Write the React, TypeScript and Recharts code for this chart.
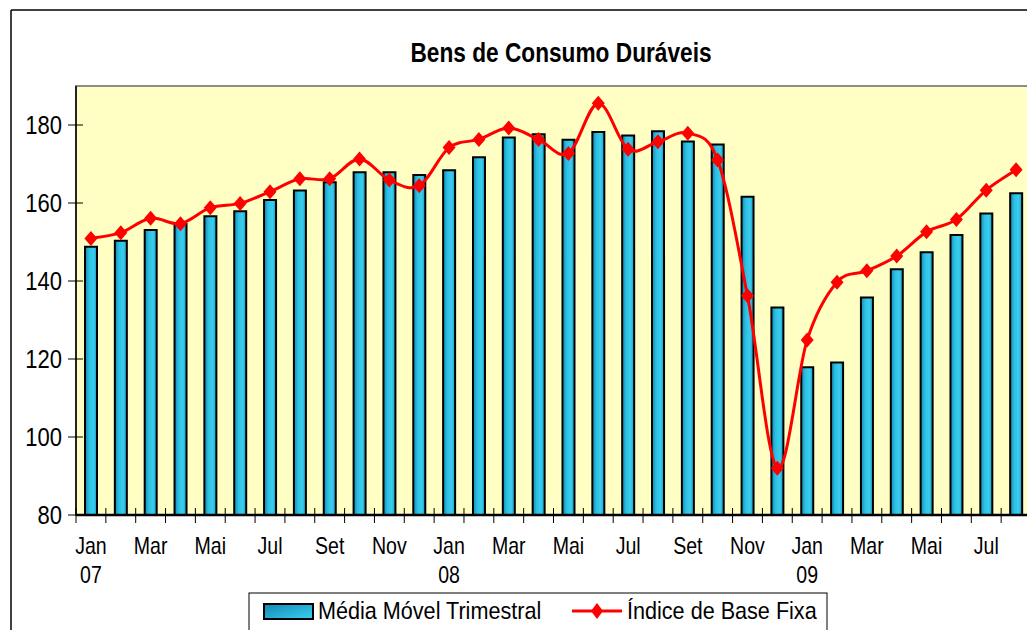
import { Bar, ComposedChart, CartesianGrid, Line, ReferenceArea, XAxis, YAxis } from 'recharts'

const months = [
  'Jan 07', 'Fev 07', 'Mar 07', 'Abr 07', 'Mai 07', 'Jun 07', 'Jul 07', 'Ago 07', 'Set 07', 'Out 07', 'Nov 07', 'Dez 07',
  'Jan 08', 'Fev 08', 'Mar 08', 'Abr 08', 'Mai 08', 'Jun 08', 'Jul 08', 'Ago 08', 'Set 08', 'Out 08', 'Nov 08', 'Dez 08',
  'Jan 09', 'Fev 09', 'Mar 09', 'Abr 09', 'Mai 09', 'Jun 09', 'Jul 09', 'Ago 09',
]

const mediaMovel = [
  148.8, 150.3, 153.1, 154.6, 156.6, 157.9, 160.8, 163.2, 165.3, 167.9, 167.9, 167.2,
  168.4, 171.7, 176.8, 177.6, 176.2, 178.2, 177.3, 178.4, 175.8, 175.0, 161.6, 133.2,
  117.9, 119.1, 135.8, 143.0, 147.4, 151.8, 157.3, 162.5,
]

const indiceBaseFixa = [
  150.9, 152.4, 156.1, 154.7, 158.8, 159.9, 162.9, 166.2, 166.2, 171.3, 165.9, 164.4,
  174.2, 176.3, 179.2, 176.3, 172.7, 185.6, 173.8, 175.7, 177.9, 171.0, 136.2, 92.0,
  124.9, 139.7, 142.6, 146.4, 152.6, 155.8, 163.3, 168.5,
]

const yTicks = [80, 100, 120, 140, 160, 180]
const yearLabels: Record<number, string> = { 0: '07', 12: '08', 24: '09' }

const data = months.map((month, i) => ({
  month,
  media: mediaMovel[i],
  indice: indiceBaseFixa[i],
}))

const FONT = '"Liberation Sans", Arial, sans-serif'
const BAND = (1031 - 76) / months.length

// Excel-like smoothed line (Catmull-Rom through every point)
const excelCurve = (context: any) => {
  let pts: [number, number][] = []
  return {
    areaStart() {},
    areaEnd() {},
    lineStart() {
      pts = []
    },
    lineEnd() {
      const n = pts.length
      if (!n) return
      context.moveTo(pts[0][0], pts[0][1])
      for (let i = 0; i < n - 1; i++) {
        const p0 = pts[i - 1] || pts[i]
        const p1 = pts[i]
        const p2 = pts[i + 1]
        const p3 = pts[i + 2] || p2
        context.bezierCurveTo(
          p1[0] + (p2[0] - p0[0]) / 6,
          p1[1] + (p2[1] - p0[1]) / 6,
          p2[0] - (p3[0] - p1[0]) / 6,
          p2[1] - (p3[1] - p1[1]) / 6,
          p2[0],
          p2[1],
        )
      }
    },
    point(x: number, y: number) {
      pts.push([x, y])
    },
  }
}

const Diamond = (props: any) => {
  const { cx, cy } = props
  if (cx == null || cy == null) return null
  return <polygon points={`${cx},${cy - 7.5} ${cx + 6.5},${cy} ${cx},${cy + 7.5} ${cx - 6.5},${cy}`} fill="#ff0000" />
}

const MonthTick = (props: any) => {
  const { x, y, payload, index } = props
  const label = index % 2 === 0 ? payload.value.split(' ')[0] : ''
  const year = yearLabels[index]
  const bx = x - BAND / 2
  return (
    <g>
      <line x1={bx} x2={bx} y1={y - 7} y2={y + 8} stroke="#000" strokeWidth={1} />
      {label && (
        <text transform={`translate(${x},${y + 39}) scale(0.85,1)`} textAnchor="middle" fontSize={23} fontFamily={FONT} fill="#000">
          {label}
        </text>
      )}
      {year && (
        <text transform={`translate(${x},${y + 68}) scale(0.85,1)`} textAnchor="middle" fontSize={23} fontFamily={FONT} fill="#000">
          {year}
        </text>
      )}
    </g>
  )
}

const ValueTick = (props: any) => {
  const { x, y, payload } = props
  return (
    <g>
      <line x1={x - 8} x2={x + 7} y1={y} y2={y} stroke="#000" strokeWidth={1} />
      <text transform={`translate(${x - 14},${y + 9}) scale(0.88,1)`} textAnchor="end" fontSize={25} fontFamily={FONT} fill="#000">
        {payload.value}
      </text>
    </g>
  )
}

export default function App() {
  return (
    <div style={{ position: 'absolute', left: 0, top: 0, width: 1027, height: 630, overflow: 'hidden', background: '#fff' }}>
      <svg width={1027} height={630} style={{ position: 'absolute', left: 0, top: 0 }}>
        <line x1={11} y1={10} x2={1027} y2={10} stroke="#000" strokeWidth={1.5} />
        <line x1={11} y1={10} x2={11} y2={630} stroke="#000" strokeWidth={1.5} />
        <text transform="translate(561,62) scale(0.84,1)" textAnchor="middle" fontSize={27} fontWeight="bold" fontFamily={FONT} fill="#000">
          Bens de Consumo Duráveis
        </text>
      </svg>
      <div style={{ position: 'absolute', left: 0, top: 0 }}>
        <ComposedChart width={1040} height={630} data={data} margin={{ top: 86, right: 9, bottom: 0, left: 0 }} barCategoryGap={0}>
          <defs>
            <linearGradient id="barGrad" x1="0" y1="0" x2="1" y2="0">
              <stop offset="0%" stopColor="#1488b0" />
              <stop offset="35%" stopColor="#2cc0e4" />
              <stop offset="70%" stopColor="#3acdee" />
              <stop offset="100%" stopColor="#1a9cc4" />
            </linearGradient>
          </defs>
          <CartesianGrid fill="#ffffc4" horizontal={false} vertical={false} />
          <ReferenceArea y1={80} y2={190} fill="none" stroke="#8c8c8c" strokeWidth={2} />
          <XAxis
            dataKey="month"
            height={115}
            interval={0}
            tickLine={false}
            tickSize={0}
            tickMargin={0}
            axisLine={{ stroke: '#000', strokeWidth: 2.5 }}
            tick={<MonthTick />}
          />
          <YAxis
            width={76}
            domain={[80, 190]}
            ticks={yTicks}
            allowDataOverflow
            tickLine={false}
            tickSize={0}
            tickMargin={0}
            axisLine={{ stroke: '#000', strokeWidth: 1.5 }}
            tick={<ValueTick />}
          />
          <Bar dataKey="media" barSize={12} fill="url(#barGrad)" stroke="#000" strokeWidth={2} isAnimationActive={false} />
          <Line
            dataKey="indice"
            type={excelCurve as any}
            stroke="#ff0000"
            strokeWidth={3}
            dot={<Diamond />}
            activeDot={false}
            isAnimationActive={false}
          />
        </ComposedChart>
      </div>
      <svg width={1027} height={630} style={{ position: 'absolute', left: 0, top: 0, pointerEvents: 'none' }}>
        <rect x={249} y={593} width={578} height={60} fill="#fff" stroke="#000" strokeWidth={1} />
        <defs>
          <linearGradient id="legGrad" x1="0" y1="0" x2="1" y2="1">
            <stop offset="0%" stopColor="#1488b0" />
            <stop offset="100%" stopColor="#3ad0f2" />
          </linearGradient>
        </defs>
        <rect x={264} y={604} width={49} height={15} fill="url(#legGrad)" stroke="#000" strokeWidth={2} />
        <text transform="translate(318,619) scale(0.9,1)" fontSize={24} fontFamily={FONT} fill="#000">
          Média Móvel Trimestral
        </text>
        <line x1={572} x2={622} y1={611} y2={611} stroke="#ff0000" strokeWidth={3} />
        <polygon points="597,603 603,611 597,619 591,611" fill="#ff0000" />
        <text transform="translate(627,619) scale(0.9,1)" fontSize={24} fontFamily={FONT} fill="#000">
          Índice de Base Fixa
        </text>
      </svg>
    </div>
  )
}
